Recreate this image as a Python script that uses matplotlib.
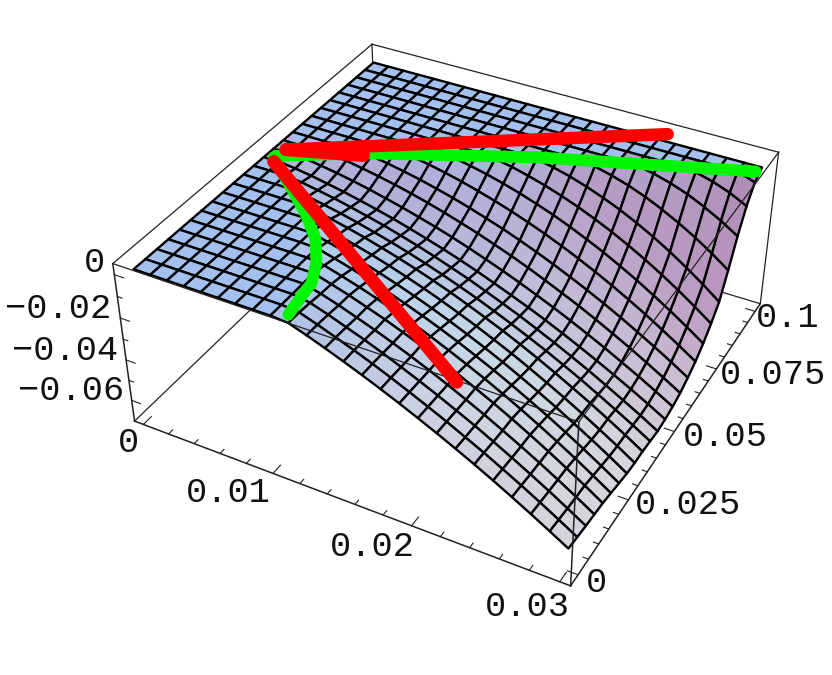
import numpy as np
import matplotlib
matplotlib.use("Agg")
import matplotlib.pyplot as plt

W, H, L = 832, 675, 800

# plot box, slightly larger than the data like the original
X_LIM = (-0.0007, 0.0307)
Y_LIM = (-0.0035, 0.1035)
Z_LIM = (-0.0705, 0.005)

# grid of the surface
x_grid = np.linspace(0, 0.03, 25)
y_grid = np.linspace(0, 0.1, 25)

# depth below zero (units of 1e-3), one list per y row. Each list ends at x = 0.03,
# the columns left of it lie on the flat part
depth_rows = [
    [0.6, 3.4, 6.4, 9.6, 12.9, 16.4, 20, 23.8, 27.7, 31.8, 36, 40.4, 45, 49.7, 54.6, 59.6],
    [0.8, 3.6, 6.6, 9.7, 13, 16.5, 20.2, 24, 27.9, 32.1, 36.3, 40.8, 45.4, 50.2, 55.2, 60.3],
    [1.3, 4, 7, 10, 13.3, 16.8, 20.4, 24.2, 28.2, 32.3, 36.7, 41.2, 45.9, 50.7, 55.8, 61],
    [2, 4.6, 7.5, 10.5, 13.7, 17.1, 20.7, 24.5, 28.5, 32.6, 37, 41.5, 46.2, 51.1, 56.2, 61.5],
    [2.4, 4.9, 7.7, 10.6, 13.8, 17.1, 20.7, 24.5, 28.5, 32.6, 37, 41.6, 46.4, 51.4, 56.6, 62],
    [1.1, 3.4, 5.9, 8.6, 11.6, 14.7, 18, 21.6, 25.4, 29.3, 33.5, 37.9, 42.5, 47.3, 52.3, 57.6, 63],
    [0.4, 2.5, 4.8, 7.3, 10, 12.9, 16, 19.3, 22.8, 26.6, 30.5, 34.7, 39.1, 43.6, 48.4, 53.4, 58.6, 64],
    [1.9, 3.9, 6.2, 8.7, 11.4, 14.3, 17.4, 20.7, 24.2, 27.9, 31.8, 36, 40.3, 44.8, 49.6, 54.5, 59.6, 65],
    [1.3, 3.2, 5.3, 7.5, 10, 12.7, 15.5, 18.6, 21.9, 25.3, 29, 32.8, 36.9, 41.2, 45.6, 50.3, 55.2, 60.2, 65.5],
    [0.9, 2.5, 4.4, 6.4, 8.7, 11.1, 13.7, 16.5, 19.5, 22.8, 26.2, 29.7, 33.5, 37.5, 41.7, 46.1, 50.6, 55.4, 60.3, 65.5],
    [1.2, 2.7, 4.4, 6.3, 8.4, 10.6, 13, 15.6, 18.4, 21.4, 24.5, 27.9, 31.4, 35.1, 38.9, 43, 47.2, 51.7, 56.3, 61, 66],
    [1, 2.4, 3.9, 5.7, 7.6, 9.6, 11.9, 14.3, 16.9, 19.7, 22.6, 25.8, 29.1, 32.5, 36.2, 40, 44, 48.1, 52.5, 57, 61.6, 66.5],
    [0.9, 2.1, 3.6, 5.1, 6.9, 8.8, 10.8, 13.1, 15.5, 18, 20.7, 23.6, 26.7, 29.9, 33.2, 36.7, 40.4, 44.3, 48.3, 52.5, 56.8, 61.3, 66],
    [0.2, 1.4, 2.7, 4.2, 5.9, 7.8, 9.8, 12, 14.3, 16.8, 19.5, 22.4, 25.4, 28.6, 32, 35.5, 39.2, 43.1, 47.1, 51.4, 55.7, 60.3, 65],
    [0.9, 2.3, 3.8, 5.5, 7.4, 9.5, 11.8, 14.3, 16.9, 19.8, 22.8, 26, 29.5, 33.1, 36.8, 40.8, 45, 49.3, 53.9, 58.6, 63.5],
    [0.5, 1.8, 3.3, 5, 7, 9.1, 11.5, 14.1, 16.8, 19.8, 23, 26.4, 30, 33.8, 37.8, 42, 46.5, 51.1, 55.9, 61],
    [0.5, 1.9, 3.6, 5.5, 7.7, 10.1, 12.7, 15.6, 18.7, 22.1, 25.7, 29.6, 33.7, 38.1, 42.7, 47.6, 52.7, 58],
    [0.5, 2.1, 3.9, 6, 8.4, 11.1, 14, 17.3, 20.9, 24.7, 28.9, 33.3, 38.1, 43.1, 48.4, 54],
    [0.6, 2.2, 4.2, 6.5, 9.2, 12.2, 15.6, 19.3, 23.4, 27.8, 32.6, 37.7, 43.2, 49],
    [0.3, 2, 4.1, 6.7, 9.7, 13.1, 17, 21.3, 26.1, 31.3, 36.9, 43],
    [1.2, 3.2, 5.7, 8.8, 12.4, 16.5, 21.1, 26.3, 32],
    [0.2, 1.9, 4.2, 7.1, 10.8, 15, 20],
    [0.9, 3, 6, 10],
    [3],
    [],
]

# the thick curves, all on z = 0 except the end of the long red one
green_curve_x = [0.0109, 0.0106, 0.01043, 0.00958, 0.00812, 0.00623, 0.00433, 0.0006]
green_curve_y = [0.002, 0.0085, 0.0134, 0.0201, 0.0277, 0.0344, 0.0401, 0.051]
green_line_x = [0.00065, 0.00597, 0.01634, 0.0298]
green_line_y = [0.0518, 0.0628, 0.0798, 0.0977]
red_top_x = [0.0008, 0.0228]
red_top_y = [0.0552, 0.1032]
red_short_x = [0.0008, 0.0058]
red_short_y = [0.0552, 0.0615]
red_diag_x = [0.0009, 0.0207]
red_diag_y = [0.0495, 0.012]
red_diag_z = [0, -0.021]

# colours sampled on the sloped part, rows are x = .01 .02 .03, columns y = 0 .03 .06 .08 .1
anchor_x = [0.01, 0.02, 0.03]
anchor_y = [0, 0.03, 0.06, 0.08, 0.1]
anchor_rgb = np.array([
    [(172, 190, 232), (175, 205, 235), (178, 172, 215), (163, 192, 238), (163, 192, 238)],
    [(205, 208, 225), (200, 218, 232), (190, 185, 215), (182, 155, 195), (163, 192, 238)],
    [(215, 210, 218), (215, 215, 220), (205, 190, 210), (185, 150, 190), (172, 135, 172)],
]) / 255
flat_rgb = np.array((163, 192, 238)) / 255

tick_labels = ["0", "\u22120.02", "\u22120.04", "\u22120.06",
               "0", "0.01", "0.02", "0.03",
               "0", "0.025", "0.05", "0.075", "0.1"]
label_px = [(94, 263), (58, 308), (65, 350), (71, 391),
            (129, 442), (228, 493), (372, 547), (527, 607),
            (597, 582), (688, 505), (725, 437), (773, 375), (788, 318)]

Z = np.zeros((25, 25))
for j, row in enumerate(depth_rows):
    if row:
        Z[j, -len(row):] = -np.array(row) * 1e-3
XX, YY = np.meshgrid(x_grid, y_grid)

xc = 0.5 * (x_grid[:-1] + x_grid[1:])
yc = 0.5 * (y_grid[:-1] + y_grid[1:])
face = np.zeros((24, 24, 3))
for j in range(24):
    for k in range(24):
        if Z[j:j + 2, k:k + 2].min() == 0:
            face[j, k] = flat_rgb
            continue
        by_y = np.array([[np.interp(yc[j], anchor_y, anchor_rgb[i, :, c]) for c in range(3)]
                         for i in range(3)])
        face[j, k] = [np.interp(xc[k], anchor_x, by_y[:, c]) for c in range(3)]

fig = plt.figure(figsize=(W / 100, H / 100), dpi=100)
ax = fig.add_axes([49.52 / W, -20.91 / H, L / W, L / H], projection="3d", computed_zorder=False)
ax.set_xlim(*X_LIM); ax.set_ylim(*Y_LIM); ax.set_zlim(*Z_LIM)
ax.view_init(36.29, -61.84)
ax.set_box_aspect((1, 0.9957, 0.4019), zoom=0.8484)
ax.set_proj_type("persp", focal_length=0.4236)
ax.set_axis_off()
ax.patch.set_alpha(0)


def edge(p, q, z=3, lw=0.9):
    ax.plot([p[0], q[0]], [p[1], q[1]], [p[2], q[2]], color="#222222", lw=lw, zorder=z)


x0, x1 = X_LIM; y0, y1 = Y_LIM; zb, zt = Z_LIM

# box edges behind the surface
edge((x0, y0, zb), (x0, y1, zb), z=1)
edge((x0, y1, zb), (x1, y1, zb), z=1)
edge((x0, y1, zb), (x0, y1, zt), z=1)

ax.plot_surface(XX, YY, Z, facecolors=face, rstride=1, cstride=1, shade=False,
                edgecolor="black", linewidth=1.7, zorder=2)

# box edges in front
edge((x0, y0, zt), (x0, y1, zt))
edge((x0, y1, zt), (x1, y1, zt))
edge((x1, y1, zt), (x1, y0, zt))
edge((x1, y0, zt), (x0, y0, zt))
edge((x0, y0, zt), (x0, y0, zb), lw=1.1)
edge((x1, y0, zt), (x1, y0, zb), lw=1.1)
edge((x1, y1, zt), (x1, y1, zb))
edge((x0, y0, zb), (x1, y0, zb), lw=1.1)
edge((x1, y0, zb), (x1, y1, zb), lw=1.1)

# ticks
for v in np.arange(0, 0.0301, 0.002):
    major = abs(v / 0.01 - round(v / 0.01)) < 1e-6
    edge((v, y0, zb), (v, y0 + (0.003 if major else 0.0015), zb), lw=0.8)
for v in np.arange(0, 0.1001, 0.005):
    major = abs(v / 0.025 - round(v / 0.025)) < 1e-6
    edge((x1, v, zb), (x1 - (0.0007 if major else 0.00035), v, zb), lw=0.8)
for v in np.arange(-0.06, 0.0001, 0.01):
    major = abs(v / 0.02 - round(v / 0.02)) < 1e-6
    edge((x0, y0, v), (x0 + (0.0007 if major else 0.00035), y0, v), lw=0.8)

# thick curves
thick = dict(solid_capstyle="round", solid_joinstyle="round")
zero = lambda seq: np.zeros(len(seq))
ax.plot(green_curve_x, green_curve_y, zero(green_curve_x), color="#00F500", lw=8.5, zorder=4, **thick)
ax.plot(green_line_x, green_line_y, zero(green_line_x), color="#00F500", lw=8.5, zorder=4, **thick)
ax.plot(red_top_x, red_top_y, zero(red_top_x), color="#FF0000", lw=9, zorder=5, **thick)
ax.plot(red_short_x, red_short_y, zero(red_short_x), color="#FF0000", lw=9.5, zorder=5, **thick)
ax.plot(red_diag_x, red_diag_y, red_diag_z, color="#FF0000", lw=9.5, zorder=5, **thick)

for s, (px, py) in zip(tick_labels, label_px):
    fig.text(px / W, 1 - py / H, s, family="Liberation Mono", fontsize=25.5,
             ha="center", va="center", color="#111111")

fig.savefig("out.png", dpi=100)
